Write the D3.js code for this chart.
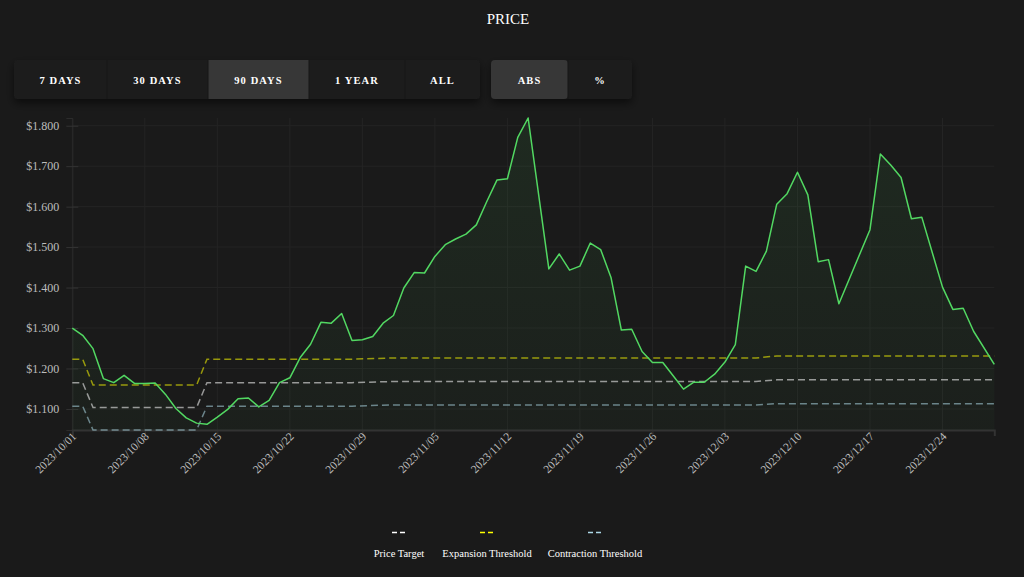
<!DOCTYPE html>
<html>
<head>
<meta charset="utf-8">
<script src="https://cdn.jsdelivr.net/npm/d3@7"></script>
<style>
  html, body { margin: 0; padding: 0; background: #1a1a1a; }
  svg { display: block; font-family: "Liberation Serif", "Times New Roman", serif; }
</style>
</head>
<body>
<svg id="chart" width="1024" height="577"></svg>
<script>
// ---------- DATA ----------
const priceDates = [
  "2023-10-01","2023-10-02","2023-10-03","2023-10-04","2023-10-05","2023-10-06","2023-10-07","2023-10-08",
  "2023-10-09","2023-10-10","2023-10-11","2023-10-12","2023-10-13","2023-10-14","2023-10-15","2023-10-16",
  "2023-10-17","2023-10-18","2023-10-19","2023-10-20","2023-10-21","2023-10-22","2023-10-23","2023-10-24",
  "2023-10-25","2023-10-26","2023-10-27","2023-10-28","2023-10-29","2023-10-30","2023-10-31",
  "2023-11-01","2023-11-02","2023-11-03","2023-11-04","2023-11-05","2023-11-06","2023-11-07","2023-11-08",
  "2023-11-09","2023-11-10","2023-11-11","2023-11-12","2023-11-13","2023-11-14","2023-11-16","2023-11-17",
  "2023-11-18","2023-11-19","2023-11-20","2023-11-21","2023-11-22","2023-11-23","2023-11-24","2023-11-25",
  "2023-11-26","2023-11-27","2023-11-28","2023-11-29","2023-11-30",
  "2023-12-01","2023-12-02","2023-12-03","2023-12-04","2023-12-05","2023-12-06","2023-12-07","2023-12-08",
  "2023-12-09","2023-12-10","2023-12-11","2023-12-12","2023-12-13","2023-12-14","2023-12-17","2023-12-18",
  "2023-12-19","2023-12-20","2023-12-21","2023-12-22","2023-12-24","2023-12-25","2023-12-26","2023-12-27",
  "2023-12-29"
];
const priceValues = [
  1.300,1.282,1.249,1.175,1.165,1.183,1.163,1.163,
  1.164,1.136,1.101,1.078,1.065,1.062,1.080,1.099,
  1.125,1.127,1.105,1.121,1.165,1.177,1.227,1.260,
  1.314,1.312,1.336,1.269,1.271,1.279,1.312,
  1.331,1.399,1.437,1.436,1.477,1.506,1.520,1.532,
  1.555,1.612,1.666,1.669,1.771,1.819,1.446,1.483,
  1.443,1.453,1.510,1.494,1.425,1.295,1.297,1.242,
  1.215,1.215,1.182,1.149,1.166,
  1.166,1.186,1.216,1.259,1.453,1.440,1.490,1.606,
  1.632,1.685,1.629,1.464,1.469,1.360,1.543,1.730,
  1.703,1.672,1.570,1.574,1.401,1.346,1.349,1.292,
  1.210
];

const thresholdDates = ["2023-10-01","2023-10-02","2023-10-03","2023-10-13","2023-10-14","2023-10-28","2023-11-01","2023-12-06","2023-12-08","2023-12-29"];
const targetValues      = [1.165,1.165,1.1035,1.1035,1.165,1.165,1.168,1.168,1.172,1.172];
const expansionValues   = [1.223,1.223,1.159,1.159,1.223,1.223,1.226,1.226,1.231,1.231];
const contractionValues = [1.107,1.107,1.048,1.048,1.107,1.107,1.110,1.110,1.113,1.113];

const xTickLabels = ["2023/10/01","2023/10/08","2023/10/15","2023/10/22","2023/10/29","2023/11/05","2023/11/12",
                     "2023/11/19","2023/11/26","2023/12/03","2023/12/10","2023/12/17","2023/12/24"];
const yTickValues = [1.1,1.2,1.3,1.4,1.5,1.6,1.7,1.8];

const rangeButtons = ["7 DAYS","30 DAYS","90 DAYS","1 YEAR","ALL"];
const modeButtons = ["ABS","%"];
const legendLabels = ["Price Target","Expansion Threshold","Contraction Threshold"];

// ---------- SETUP ----------
const svg = d3.select("#chart");
const parse = d3.utcParse("%Y-%m-%d");
const parseTick = d3.utcParse("%Y/%m/%d");

const price = priceDates.map((d,i) => ({date: parse(d), v: priceValues[i]}));
const mk = arr => thresholdDates.map((d,i) => ({date: parse(d), v: arr[i]}));
const target = mk(targetValues), expansion = mk(expansionValues), contraction = mk(contractionValues);

const L = 72.3, R = 994.3, T = 118, B = 430;
const x = d3.scaleUtc().domain(d3.extent(price, d => d.date)).range([L, R]);
const allVals = priceValues.concat(targetValues, expansionValues, contractionValues);
const y = d3.scaleLinear().domain(d3.extent(allVals)).range([B, T]);

const defs = svg.append("defs");
const sh = defs.append("filter").attr("id","shadow").attr("x","-10%").attr("y","-30%").attr("width","120%").attr("height","180%");
sh.append("feDropShadow").attr("dx",0).attr("dy",4).attr("stdDeviation",4).attr("flood-color","#000").attr("flood-opacity",0.55);
const grad = defs.append("linearGradient").attr("id","areaGrad").attr("x1",0).attr("y1",0).attr("x2",0).attr("y2",1);
grad.append("stop").attr("offset","0%").attr("stop-color","#4fd060").attr("stop-opacity",0.09);
grad.append("stop").attr("offset","100%").attr("stop-color","#4fd060").attr("stop-opacity",0.03);

// Title
svg.append("text").attr("x",508).attr("y",23.5).attr("text-anchor","middle")
  .attr("fill","#ffffff").attr("font-size",15).text("PRICE");

// Buttons
const btnG = svg.append("g");
const rangeEdges = [14,107,208,309,405,480];
const modeEdges = [491,568,632];
function drawGroup(labels, edges, activeIdx){
  const g = btnG.append("g");
  g.append("rect").attr("x",edges[0]).attr("y",60).attr("width",edges[edges.length-1]-edges[0]).attr("height",39)
    .attr("rx",4).attr("fill","#1d1d1d").attr("filter","url(#shadow)");
  labels.forEach((lab,i) => {
    const x0 = edges[i], x1 = edges[i+1];
    if (i === activeIdx) {
      g.append("rect").attr("x",x0).attr("y",60).attr("width",x1-x0).attr("height",39)
        .attr("fill","#373737").attr("rx", i===0 ? 4 : 0);
    }
    if (i > 0) g.append("line").attr("x1",x0).attr("x2",x0).attr("y1",60).attr("y2",99).attr("stroke","#171717").attr("stroke-width",1);
    g.append("text").attr("x",(x0+x1)/2).attr("y",83.5).attr("text-anchor","middle")
      .attr("fill","#ffffff").attr("font-size",10.5).attr("font-weight","bold").attr("letter-spacing",1.1).text(lab);
  });
}
drawGroup(rangeButtons, rangeEdges, 2);
drawGroup(modeButtons, modeEdges, 0);

// Grid
const xTicks = xTickLabels.map(parseTick);
const grid = svg.append("g");
grid.selectAll(".hg").data(yTickValues).join("line")
  .attr("x1",L).attr("x2",R).attr("y1",d=>y(d)).attr("y2",d=>y(d)).attr("stroke","#242424");
grid.selectAll(".vg").data(xTicks).join("line")
  .attr("x1",d=>x(d)).attr("x2",d=>x(d)).attr("y1",T).attr("y2",B).attr("stroke","#242424");

// Axes
const yAxis = svg.append("g").attr("transform",`translate(${L},0)`)
  .call(d3.axisLeft(y).tickValues(yTickValues).tickFormat(d3.format("$.3f")).tickSizeOuter(0).tickSize(6));
yAxis.select(".domain").attr("stroke","#2c2c2c");
yAxis.selectAll(".tick line").attr("stroke","#333").attr("x1",6).attr("x2",-6);
yAxis.selectAll(".tick text").attr("fill","#bdbdbd").attr("font-size",12).attr("x",-13)
  .attr("font-family","Liberation Serif, serif");

const xAxis = svg.append("g").attr("transform",`translate(0,${B})`)
  .call(d3.axisBottom(x).tickValues(xTicks).tickFormat(d3.utcFormat("%Y/%m/%d")).tickSizeOuter(0).tickSize(6));
xAxis.select(".domain").attr("stroke","#333").attr("stroke-width",2);
xAxis.selectAll(".tick line").attr("stroke","#333");
xAxis.selectAll(".tick text").attr("fill","#bdbdbd").attr("font-size",11.5)
  .attr("font-family","Liberation Serif, serif")
  .attr("text-anchor","end").attr("dy",0).attr("y",8).attr("x",-2)
  .attr("transform","rotate(-45)");

// Area + lines
const area = d3.area().x(d=>x(d.date)).y0(B).y1(d=>y(d.v));
svg.append("path").datum(price).attr("d",area).attr("fill","url(#areaGrad)");

const line = d3.line().x(d=>x(d.date)).y(d=>y(d.v));
const thr = [
  {data: target, color: "#ffffff"},
  {data: expansion, color: "#ffff00"},
  {data: contraction, color: "#add8e6"}
];
thr.forEach(t => {
  svg.append("path").datum(t.data).attr("d",line).attr("fill","none")
    .attr("stroke",t.color).attr("stroke-opacity",0.55).attr("stroke-width",1.5).attr("stroke-dasharray","7,4");
});
svg.append("path").datum(price).attr("d",line).attr("fill","none")
  .attr("stroke","#52d862").attr("stroke-width",1.5).attr("stroke-linejoin","round");

// Legend
const legendX = [399, 487, 595];
const legend = svg.append("g");
legendLabels.forEach((lab,i) => {
  legend.append("line").attr("x1",legendX[i]-7).attr("x2",legendX[i]+7).attr("y1",532.5).attr("y2",532.5)
    .attr("stroke",thr[i].color).attr("stroke-width",1.5).attr("stroke-dasharray","5,3");
  legend.append("text").attr("x",legendX[i]).attr("y",556.5).attr("text-anchor","middle")
    .attr("fill","#ffffff").attr("font-size",10.5).text(lab);
});
</script>
</body>
</html>
